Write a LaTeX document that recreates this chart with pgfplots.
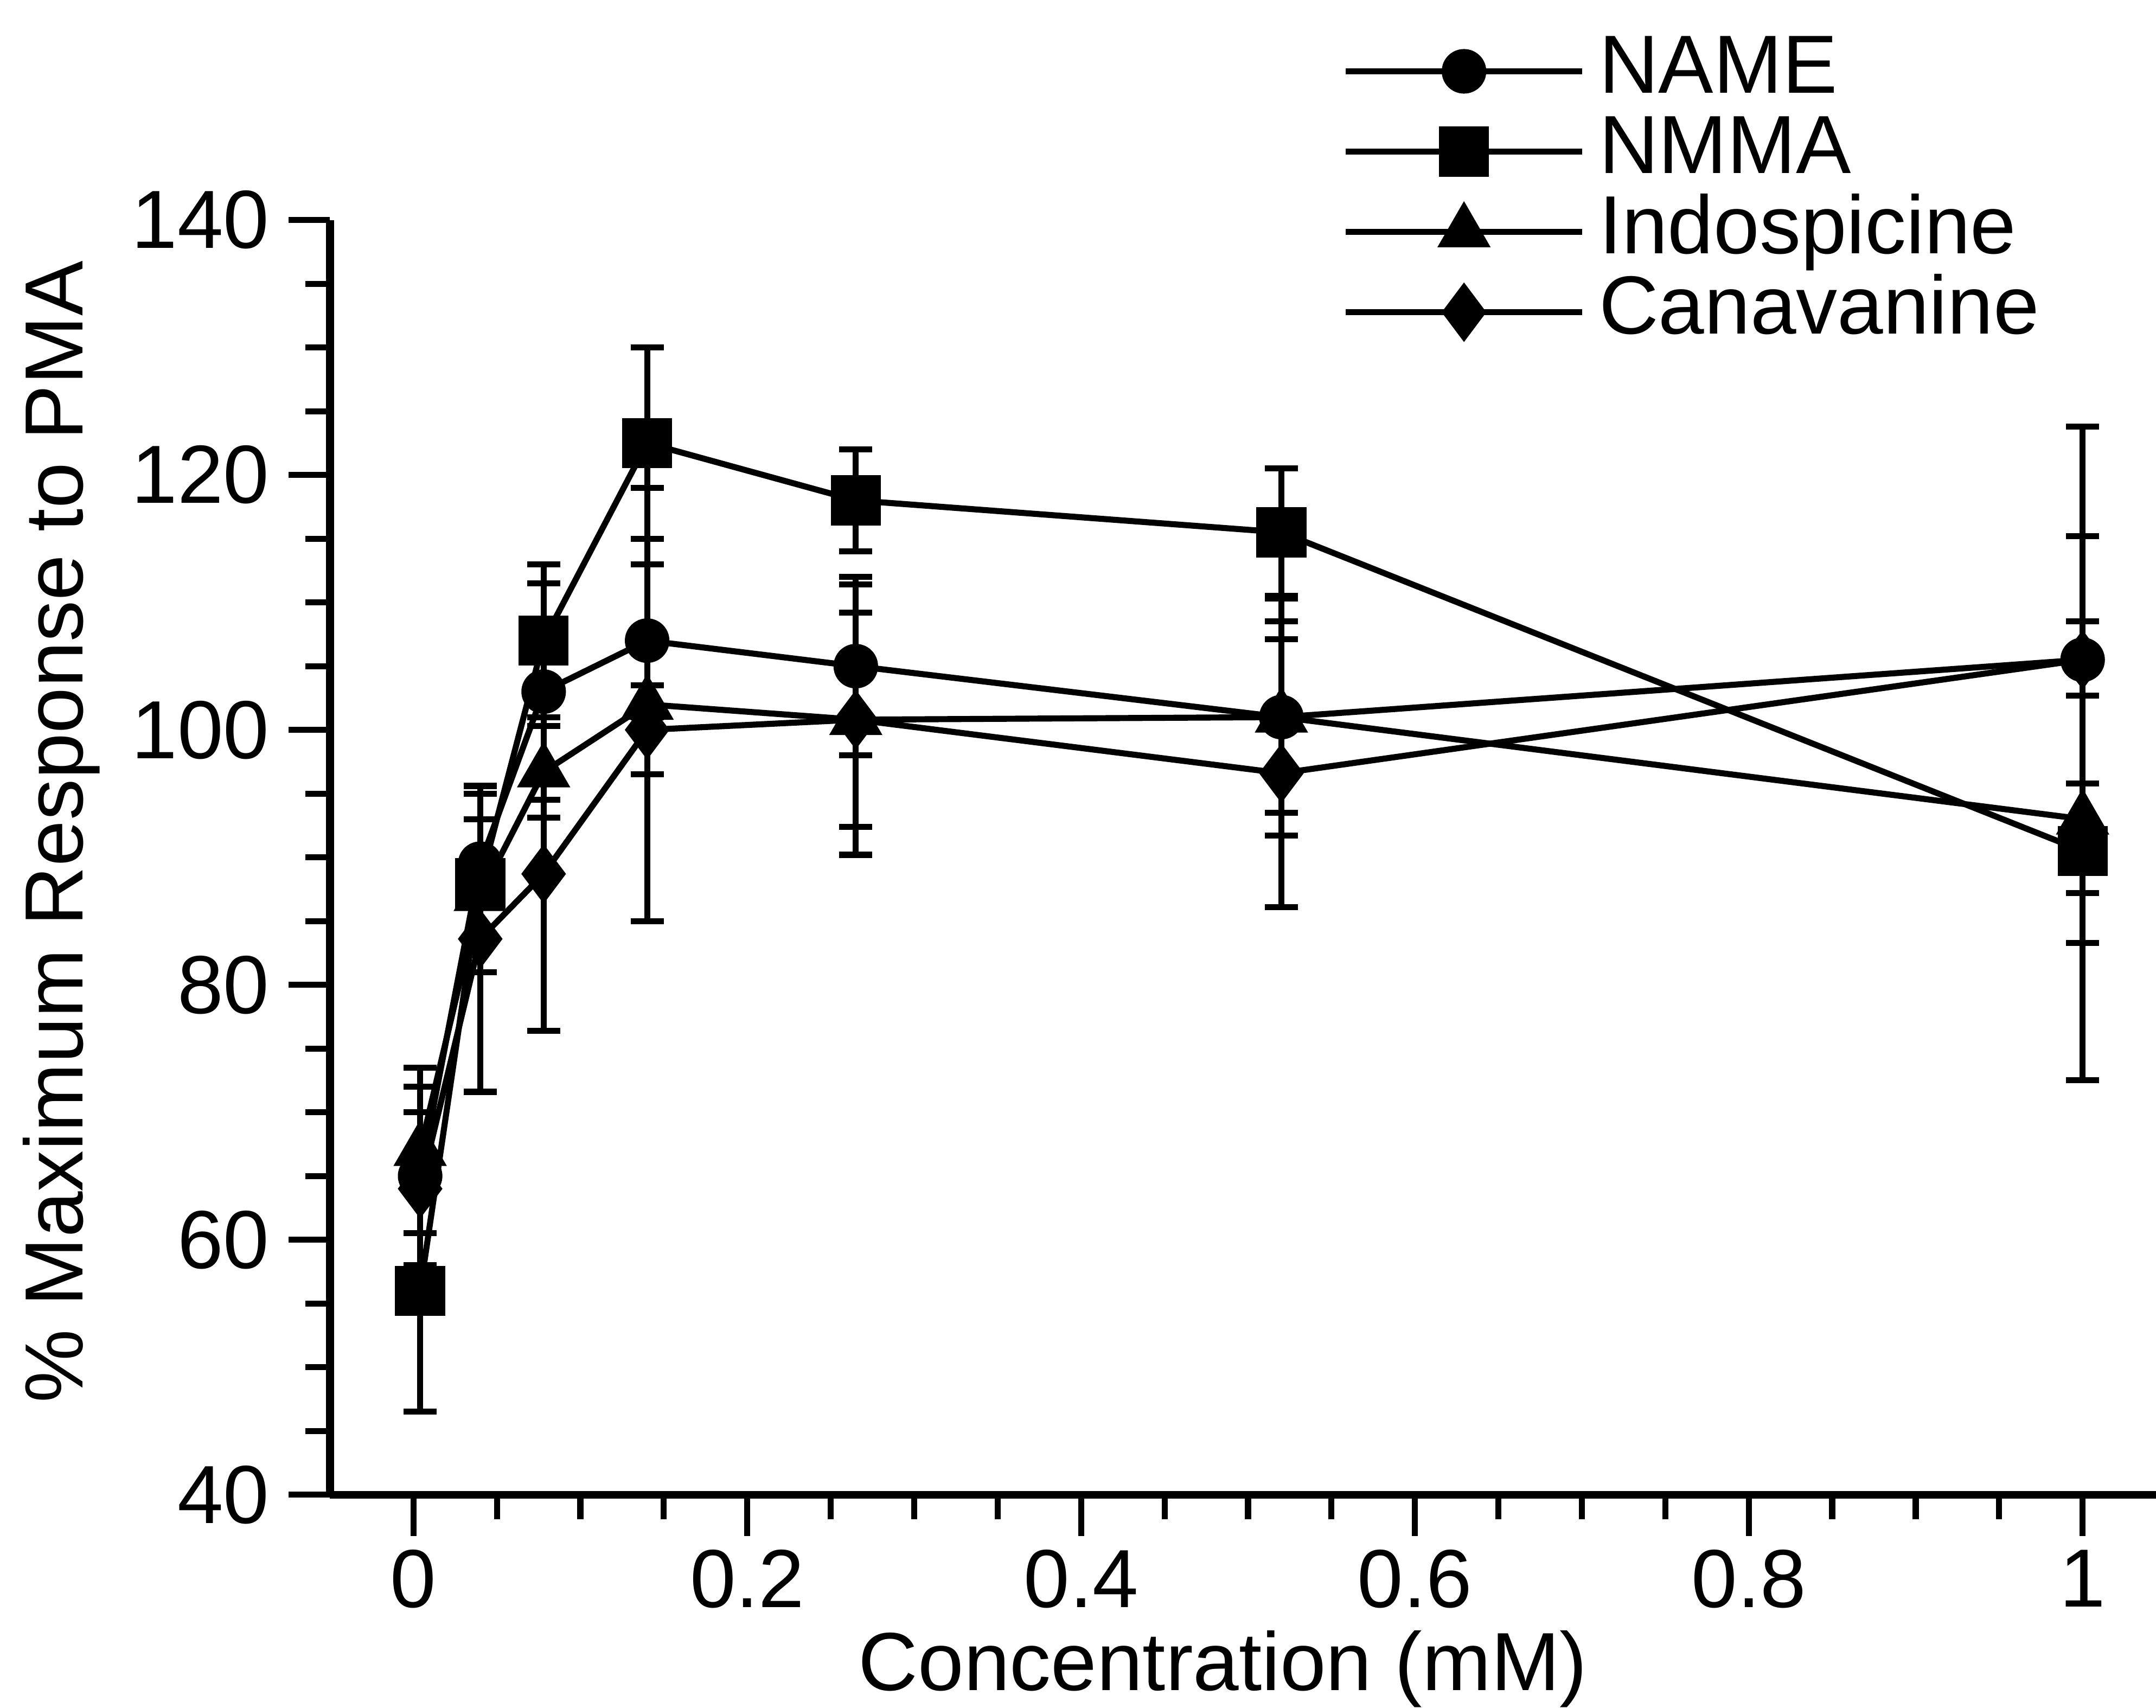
\documentclass[border=0pt]{standalone}
\usepackage{fontspec}
\setmainfont{Liberation Sans}
\usepackage{pgfplots}
\pgfplotsset{compat=1.18}

\pgfplotsset{
  series/.style={black, line width=1.1pt, mark options={solid, fill=black},
    error bars/y dir=both, error bars/y explicit,
    error bars/error bar style={line width=1.1pt},
    error bars/error mark options={rotate=90, mark size=3pt, line width=1.1pt}},
}

\begin{document}
\begin{tikzpicture}
\begin{axis}[
  scale only axis,
  width=332pt, height=231.75pt,
  xmin=-0.05, xmax=1.044, ymin=40, ymax=140,
  axis x line*=bottom, axis y line*=left,
  xtick={0,0.2,0.4,0.6,0.8,1}, ytick={40,60,...,140},
  minor x tick num=3, minor y tick num=3,
  tick align=outside,
  major tick length=7.5pt, minor tick length=4.5pt,
  every tick/.style={black, line width=1.1pt},
  axis line style={line width=1.4pt},
  /pgf/number format/assume math mode=true,
  tick label style={font=\fontsize{15}{18}\selectfont},
  xticklabel style={yshift=1pt},
  label style={font=\fontsize{15}{18}\selectfont},
  xlabel={Concentration (mM)},
  ylabel={\% Maximum Response to PMA},
  xlabel style={at={(axis description cs:0.489,-0.137)}, anchor=center},
  ylabel style={at={(axis description cs:-0.147,0.52)}, anchor=center},
  clip=false,
  legend cell align=left,
  legend style={at={(axis description cs:0.554,1.149)}, anchor=north west,
    draw=none, fill=none, inner sep=0pt,
    font=\fontsize{15}{18}\selectfont,
    nodes={inner ysep=0.3pt, inner xsep=2.5pt, text height=10.9pt, text depth=3.1pt}},
  legend image code/.code={\draw[mark repeat=2,mark phase=2,#1] plot coordinates {(0pt,0pt) (21.5pt,0pt) (43pt,0pt)};},
]

% NAME
\addplot[series, mark=*, mark size=3.5pt] coordinates {
  (0.004,65) +- (0,7)
  (0.04,89.5) +- (0,5.5)
  (0.078,103) +- (0,8.5)
  (0.14,107) +- (0,6)
  (0.265,105) +- (0,7)
  (0.52,101) +- (0,7.5)
  (1.0,105.5) +- (0,9.7)
};
\addlegendentry{NAME}

% NMMA
\addplot[series, mark=square*, mark size=4pt] coordinates {
  (0.004,56) +- (0,9.5)
  (0.04,88) +- (0,7)
  (0.078,107) +- (0,6)
  (0.14,122.5) +- (0,7.5)
  (0.265,118) +- (0,4)
  (0.52,115.5) +- (0,5)
  (1.0,90.5) +- (0,18)
};
\addlegendentry{NMMA}

% Indospicine
\addplot[series, mark=triangle*, mark size=4.5pt] coordinates {
  (0.004,67) +- (0,6.5)
  (0.04,87) +- (0,6)
  (0.078,96.7) +- (0,3.6)
  (0.14,102) +- (0,17)
  (0.265,100.8) +- (0,8.4)
  (0.52,101) +- (0,9.3)
  (1.0,93) +- (0,9.7)
};
\addlegendentry{Indospicine}

% Canavanine
\addplot[series, mark=diamond*, mark size=4.5pt] coordinates {
  (0.004,64) +- (0,6)
  (0.04,83.6) +- (0,12)
  (0.078,88.7) +- (0,12.3)
  (0.14,100) +- (0,3.5)
  (0.265,100.8) +- (0,10.6)
  (0.52,96.6) +- (0,10.5)
  (1.0,105.5) +- (0,18.3)
};
\addlegendentry{Canavanine}

\coordinate (SW) at (rel axis cs:0,0);
\coordinate (NE) at (rel axis cs:1,1);
\end{axis}
\pgfresetboundingbox
\useasboundingbox ([xshift=-60pt,yshift=-38.75pt]SW) rectangle ([yshift=40pt]NE);
\end{tikzpicture}
\end{document}
